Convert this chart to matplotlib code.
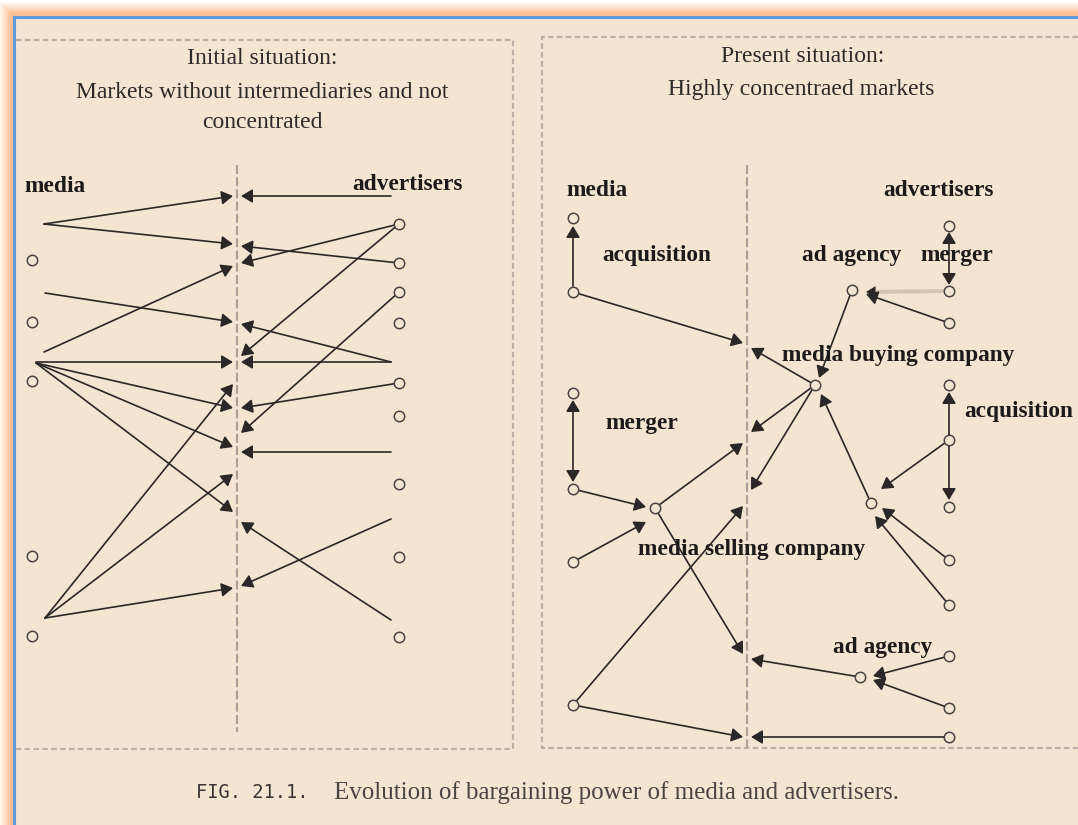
import numpy as np
import matplotlib.pyplot as plt

# --- data (pixel coordinates of the original diagram) ---
# left panel: "Initial situation"
left_mid_x = 237
left_media_nodes = [(32, 260), (32, 322), (32, 381), (32, 556), (32, 636)]
left_adv_nodes = [(399, 224), (399, 263), (399, 292), (399, 323), (399, 383),
                  (399, 416), (399, 484), (399, 557), (399, 637)]
# links media -> market (arrow tip on the left of the dashed line)
left_media_links = [((44, 224), (233, 196)), ((44, 224), (233, 244)),
                    ((44, 352), (233, 266)), ((45, 293), (233, 322)),
                    ((36, 362), (233, 362)), ((36, 363), (233, 408)),
                    ((36, 363), (233, 447)), ((36, 363), (233, 512)),
                    ((45, 618), (233, 384)), ((45, 618), (233, 474)),
                    ((45, 618), (233, 588))]
# links advertisers -> market (arrow tip on the right of the dashed line)
left_adv_links = [((391, 196), (241, 196)), ((399, 263), (241, 246)),
                  ((399, 224), (241, 263)), ((391, 362), (241, 324)),
                  ((391, 362), (241, 362)), ((399, 224), (241, 356)),
                  ((399, 383), (241, 408)), ((399, 292), (241, 433)),
                  ((391, 452), (241, 452)), ((391, 620), (241, 522)),
                  ((391, 519), (241, 586))]

# right panel: "Present situation"
right_mid_x = 747
right_nodes = [(573, 218), (573, 292), (573, 393), (573, 489), (573, 562), (573, 705),
               (852, 290), (815, 385), (655, 508), (871, 503), (860, 677),
               (949, 226), (949, 291), (949, 323), (949, 385), (949, 440),
               (949, 507), (949, 560), (949, 605), (949, 656), (949, 708), (949, 737)]
right_links = [((573, 286), (573, 226)),
               ((573, 292), (743, 343)), ((815, 385), (751, 348)),
               ((573, 489), (646, 507)), ((573, 562), (646, 522)),
               ((655, 508), (743, 443)), ((815, 385), (751, 432)),
               ((573, 705), (743, 506)), ((815, 385), (751, 490)),
               ((655, 508), (743, 654)), ((860, 677), (751, 659)),
               ((573, 705), (743, 737)), ((949, 737), (751, 737)),
               ((949, 323), (866, 294)),
               ((852, 290), (819, 378)), ((871, 503), (821, 394)),
               ((949, 446), (949, 392)), ((949, 434), (949, 500)),
               ((949, 440), (881, 489)), ((949, 560), (882, 508)),
               ((949, 605), (875, 516)), ((949, 656), (873, 676)),
               ((949, 708), (873, 680))]
right_faint_links = [((944, 291), (866, 292))]
right_double_links = [((573, 400), (573, 482)), ((949, 232), (949, 285))]

# texts
titles = [("Initial situation:", 262, 59), ("Markets without intermediaries and not", 262, 93),
          ("concentrated", 262, 122), ("Present situation:", 803, 56),
          ("Highly concentraed markets", 801, 90)]
labels = [("media", 24, 187), ("advertisers", 352, 185), ("media", 566, 191),
          ("advertisers", 883, 191), ("acquisition", 602, 256), ("ad agency", 802, 256),
          ("merger", 920, 256), ("media buying company", 782, 356),
          ("acquisition", 964, 411), ("merger", 605, 424),
          ("media selling company", 638, 549), ("ad agency", 833, 648)]
caption_fig = "FIG. 21.1."
caption_text = "Evolution of bargaining power of media and advertisers."

bg = "#f4e4d2"
line_c = "#2c2727"

fig = plt.figure(figsize=(10.78, 8.25), dpi=100)
fig.patch.set_facecolor("white")
ax = fig.add_axes([0, 0, 1, 1])
ax.set_xlim(0, 1078)
ax.set_ylim(825, 0)
ax.axis("off")

# orange glow frame + blue border
W, H = 1078, 825
yy, xx = np.mgrid[0:H, 0:W]
d = np.minimum(yy - 1, xx + 2).astype(float)
t = np.clip(d / 12.0, 0, 1)
orange = np.array([1.0, 0.76, 0.58])
glow = (1 - t[..., None]) * np.array([1, 1, 1]) + t[..., None] * orange
inside = (yy >= 17) & (xx >= 14)
glow[inside] = np.array([0xf4, 0xe4, 0xd2]) / 255.0
ax.imshow(glow, extent=(0, W, H, 0), zorder=0, interpolation="bilinear")
ax.plot([14, 1078], [17, 17], color="#5f9ad8", lw=2.2, zorder=1)
ax.plot([14, 14], [17, 825], color="#5f9ad8", lw=2.2, zorder=1)

# panel boxes
box_kw = dict(color="#bcb0a5", lw=1.6, ls=(0, (2.5, 1.5)), zorder=1)
ax.plot([16, 513, 513, 16], [40, 40, 749, 749], **box_kw)
ax.plot([1078, 542, 542, 1078], [37, 37, 748, 748], **box_kw)

# central dashed market lines
mid_kw = dict(color="#aaa098", lw=1.6, ls=(0, (4, 1.5)), zorder=1)
ax.plot([left_mid_x, left_mid_x], [165, 732], **mid_kw)
ax.plot([right_mid_x, right_mid_x], [165, 748], **mid_kw)


def arrow(p0, p1, style="-|>", color=line_c, lw=1.2):
    ax.annotate("", xy=p1, xytext=p0,
                arrowprops=dict(arrowstyle=style + ",head_length=0.55,head_width=0.33",
                                mutation_scale=12.5, color=color, lw=lw,
                                shrinkA=0, shrinkB=0),
                zorder=3)


for p0, p1 in left_media_links + left_adv_links + right_links:
    arrow(p0, p1)
for p0, p1 in right_faint_links:
    ax.plot([p0[0], p1[0] + 8], [p0[1], p1[1]], color="#d6c6b4", lw=3, zorder=2)
    arrow(p0, p1, lw=0.01)
for p0, p1 in right_double_links:
    arrow(p0, p1, style="<|-|>")

# nodes
for nodes in (left_media_nodes, left_adv_nodes, right_nodes):
    xs = [p[0] for p in nodes]
    ys = [p[1] for p in nodes]
    ax.plot(xs, ys, "o", ms=7.5, mfc=bg, mec="#4a4444", mew=1.1, zorder=4)

serif = "Liberation Serif"
for s, x, y in titles:
    ax.text(x, y, s, ha="center", va="center", fontsize=17, family=serif,
            color="#2e2a2a", zorder=5)
for s, x, y in labels:
    ax.text(x, y, s, ha="left", va="center", fontsize=16.8, family=serif,
            fontweight="bold", color="#1e1a1a", zorder=5)

ax.text(196, 793, caption_fig, ha="left", va="center", fontsize=13.5,
        family="DejaVu Sans Mono", color="#3a3434")
ax.text(334, 793, caption_text, ha="left", va="center", fontsize=18,
        family=serif, color="#4a4444")

fig.savefig("out.png", dpi=100, facecolor=fig.get_facecolor())
